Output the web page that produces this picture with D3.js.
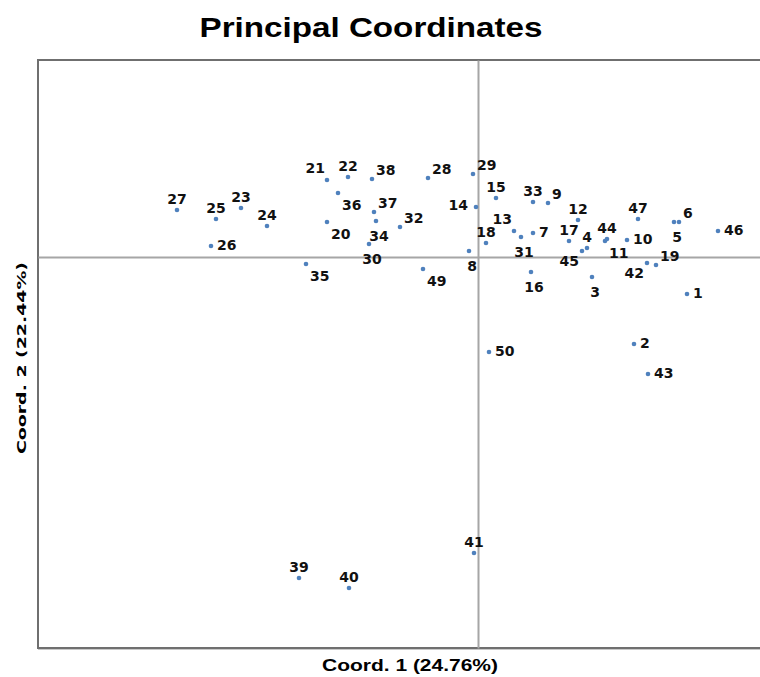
<!DOCTYPE html>
<html>
<head>
<meta charset="utf-8">
<script src="https://cdn.jsdelivr.net/npm/d3@7/dist/d3.min.js"></script>
<style>
  html, body { margin: 0; padding: 0; background: #ffffff; }
  svg { display: block; }
</style>
</head>
<body>
<div id="chart"></div>
<script>
// ---- data ----
const sampleIds = [1,2,3,4,5,6,7,8,9,10,11,12,13,14,15,16,17,18,19,20,21,22,23,24,25,26,27,28,29,30,31,32,33,34,35,36,37,38,39,40,41,42,43,44,45,46,47,49,50];
const coord1 = [0.209,0.156,0.114,0.109,0.196,0.201,0.055,-0.009,0.070,0.149,0.127,0.100,0.036,-0.002,0.018,0.053,0.091,0.008,0.178,-0.151,-0.151,-0.130,-0.237,-0.211,-0.262,-0.267,-0.301,-0.050,-0.005,-0.109,0.043,-0.078,0.055,-0.102,-0.172,-0.140,-0.104,-0.106,-0.179,-0.129,-0.004,0.169,0.170,0.129,0.104,0.240,0.160,-0.055,0.011];
const coord2 = [-0.037,-0.087,-0.020,0.009,0.035,0.035,0.024,0.006,0.054,0.017,0.016,0.037,0.026,0.050,0.059,-0.015,0.016,0.014,-0.008,0.035,0.077,0.080,0.049,0.031,0.038,0.011,0.047,0.079,0.083,0.013,0.020,0.030,0.055,0.036,-0.007,0.064,0.045,0.078,-0.321,-0.331,-0.296,-0.006,-0.117,0.018,0.006,0.026,0.038,-0.012,-0.095];
// label placement direction for each sample (layout hint, not data)
const labelDir = ["E","E","S","N","S","NE","E","S","NE","E","SE","N","NW","W","N","S","N","N","NE","SE","NW","N","N","N","N","E","N","NE","NE","S","S","NE","N","S","SE","SE","NE","NE","N","N","N","SW","E","N","SW","E","N","SE","E"];
const titleText = "Principal Coordinates";
const xLabel = "Coord. 1 (24.76%)";
const yLabel = "Coord. 2 (22.44%)";
const xDomain = [-0.44, 0.308];
const yDomain = [-0.391, 0.197];

// ---- layout ----
const W = 760, H = 677;
const plot = { left: 38, right: 786, top: 60, bottom: 648 };

const svg = d3.select("#chart").append("svg")
  .attr("width", W).attr("height", H);

const x = d3.scaleLinear().domain(xDomain).range([plot.left, plot.right]);
const y = d3.scaleLinear().domain(yDomain).range([plot.bottom, plot.top]);

// frame shadow + frame
svg.append("rect")
  .attr("x", plot.left + 1).attr("y", plot.top + 1)
  .attr("width", plot.right - plot.left).attr("height", plot.bottom - plot.top)
  .attr("fill", "none").attr("stroke", "#c8c8c8").attr("stroke-width", 2);
svg.append("rect")
  .attr("x", plot.left).attr("y", plot.top)
  .attr("width", plot.right - plot.left).attr("height", plot.bottom - plot.top)
  .attr("fill", "#ffffff").attr("stroke", "#6f6f6f").attr("stroke-width", 2);

// zero axes through the origin
const gx = svg.append("g").attr("transform", `translate(0,${y(0)})`)
  .call(d3.axisBottom(x).tickValues([]).tickSizeOuter(0));
gx.select(".domain").attr("stroke", "#a6a6a6").attr("stroke-width", 2);
const gy = svg.append("g").attr("transform", `translate(${x(0)},0)`)
  .call(d3.axisLeft(y).tickValues([]).tickSizeOuter(0));
gy.select(".domain").attr("stroke", "#a6a6a6").attr("stroke-width", 2);

// points
const pts = sampleIds.map((id, i) => ({ id, c1: coord1[i], c2: coord2[i], dir: labelDir[i] }));

const offsets = {
  N:  [0, -6, "middle"],
  S:  [3, 20, "middle"],
  E:  [6, 4, "start"],
  NE: [4, -4, "start"],
  NW: [-2, -7, "end"],
  SE: [4, 17, "start"],
  SW: [-3, 15, "end"],
  W:  [-8, 3, "end"]
};

svg.append("g").selectAll("circle").data(pts).join("circle")
  .attr("cx", d => x(d.c1)).attr("cy", d => y(d.c2))
  .attr("r", 2.3).attr("fill", "#4f81bd");

svg.append("g").selectAll("text").data(pts).join("text")
  .attr("x", d => x(d.c1) + offsets[d.dir][0])
  .attr("y", d => y(d.c2) + offsets[d.dir][1])
  .attr("text-anchor", d => offsets[d.dir][2])
  .attr("font-family", "DejaVu Sans, Verdana, sans-serif")
  .attr("font-weight", "bold")
  .attr("font-size", "14px")
  .attr("fill", "#111111")
  .text(d => d.id);

// title
svg.append("text")
  .attr("x", 371).attr("y", 37)
  .attr("text-anchor", "middle")
  .attr("font-family", "Liberation Sans, Arial, sans-serif")
  .attr("font-weight", "bold")
  .attr("font-size", "28px")
  .attr("textLength", 343).attr("lengthAdjust", "spacingAndGlyphs")
  .attr("fill", "#000")
  .text(titleText);

// axis titles
svg.append("text")
  .attr("x", 410).attr("y", 671)
  .attr("text-anchor", "middle")
  .attr("font-family", "Liberation Sans, Arial, sans-serif")
  .attr("font-weight", "bold")
  .attr("font-size", "16px")
  .attr("textLength", 176).attr("lengthAdjust", "spacingAndGlyphs")
  .attr("fill", "#000")
  .text(xLabel);

svg.append("text")
  .attr("transform", `translate(26,${(plot.top + plot.bottom) / 2 + 4}) rotate(-90)`)
  .attr("text-anchor", "middle")
  .attr("font-family", "DejaVu Sans, Verdana, sans-serif")
  .attr("font-weight", "bold")
  .attr("font-size", "13px")
  .attr("textLength", 192).attr("lengthAdjust", "spacingAndGlyphs")
  .attr("fill", "#000")
  .text(yLabel);
</script>
</body>
</html>
